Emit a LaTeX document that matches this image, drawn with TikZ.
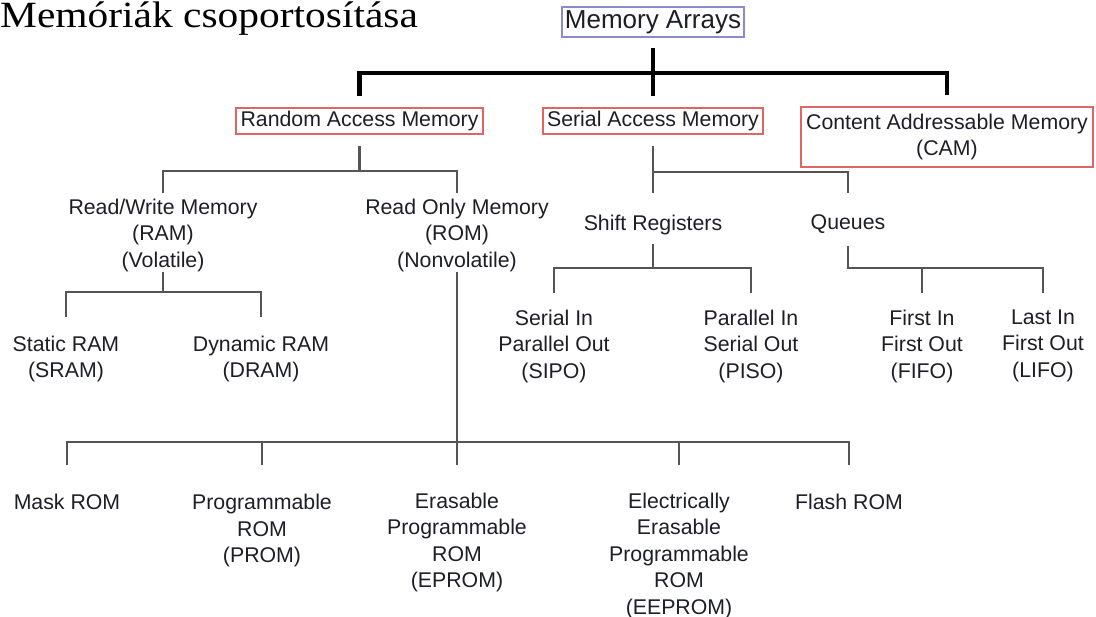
\documentclass[tikz,border=0pt]{standalone}
\usepackage{fontspec}
\setmainfont{Liberation Serif}
\newfontfamily\titlefont[FakeStretch=1.12]{Liberation Serif}
\newfontfamily\arialfont{Liberation Sans}
\usetikzlibrary{calc}

\definecolor{boxred}{HTML}{E06666}
\definecolor{boxblue}{HTML}{8A8AD0}
\definecolor{ink}{HTML}{1E1E28}
\definecolor{wiregray}{HTML}{555555}

\tikzset{
  lbl/.style={font=\arialfont\fontsize{21.3}{26.5}\selectfont, text=ink,
              align=center, inner sep=0pt, anchor=north},
  redbox/.style={font=\arialfont\fontsize{21.3}{26.5}\selectfont, text=ink,
                 align=center, inner sep=0pt, draw=boxred, line width=1.8pt},
  topbox/.style={font=\arialfont\fontsize{26}{30}\selectfont, text=ink,
                 inner sep=0pt, draw=boxblue, line width=1.8pt},
  bus/.style={draw=black, line width=4.8pt, line join=miter},
  wire/.style={draw=wiregray, line width=2.2pt},
}

\begin{document}
\begin{tikzpicture}[x=1pt,y=-1pt]
\useasboundingbox (0,0) rectangle (1096,617);
\fill[white] (0,0) rectangle (1096,617);

% heading
\node[anchor=base west, inner sep=0pt, font=\titlefont\fontsize{37}{42}\selectfont] (title) at (0,27.5) {Memóriák csoportosítása};

% root and first level
\node[topbox, minimum width=182pt, minimum height=30pt] (ma) at (653,22) {Memory Arrays};
\node[redbox, minimum width=247pt, minimum height=26pt] (ram) at (359.5,121) {Random Access Memory};
\node[redbox, minimum width=220pt, minimum height=26pt] (sam) at (653,121) {Serial Access Memory};
\node[redbox, minimum width=292pt, minimum height=60pt] (cam) at (947,137) {Content Addressable Memory\\(CAM)};

% random access branch
\node[lbl] (rw) at (163,198.5) {Read/Write Memory\\(RAM)\\(Volatile)};
\node[lbl] (ro) at (457,198.5) {Read Only Memory\\(ROM)\\(Nonvolatile)};
\node[lbl] (sram) at (66,335.5) {Static RAM\\(SRAM)};
\node[lbl] (dram) at (261,335.5) {Dynamic RAM\\(DRAM)};

% read only memories
\node[lbl] (mask) at (67,494) {Mask ROM};
\node[lbl] (prom) at (262,494) {Programmable\\ROM\\(PROM)};
\node[lbl] (eprom) at (457,492.5) {Erasable\\Programmable\\ROM\\(EPROM)};
\node[lbl] (eeprom) at (679,492.5) {Electrically\\Erasable\\Programmable\\ROM\\(EEPROM)};
\node[lbl] (flash) at (849,494) {Flash ROM};

% serial access branch
\node[lbl] (shift) at (653,214.5) {Shift Registers};
\node[lbl] (queues) at (848,214.5) {Queues};
\node[lbl] (sipo) at (554,309.5) {Serial In\\Parallel Out\\(SIPO)};
\node[lbl] (piso) at (751,309.5) {Parallel In\\Serial Out\\(PISO)};
\node[lbl] (fifo) at (922,309.5) {First In\\First Out\\(FIFO)};
\node[lbl] (lifo) at (1043,309.5) {Last In\\First Out\\(LIFO)};

% junction points of the tree
\coordinate (topbus) at (653,73);
\coordinate (rambus) at (359.5,171);
\coordinate (sambus) at (653,172);
\coordinate (rwbus) at (163,292);
\coordinate (rombus) at (457,442);
\coordinate (srbus) at (653,268);
\coordinate (qbus) at (848,268);

% heavy top level
\draw[bus] ([yshift=-10pt]ma.south) -- ([yshift=11pt]sam.north);
\draw[bus] ([yshift=11pt]ram.north) |- (topbus) -| ([yshift=11pt]cam.north);

% random access memory
\draw[wire] ([yshift=-11pt]ram.south) -- (rambus);
\draw[wire] ([yshift=5.5pt]rw.north) |- (rambus) -| ([yshift=5.5pt]ro.north);
\draw[wire] (rw.south) -- (rwbus);
\draw[wire] ([yshift=18.5pt]sram.north) |- (rwbus) -| ([yshift=18.5pt]dram.north);
\draw[wire] (ro.south) -- (rombus);
\draw[wire] ([yshift=29pt]mask.north) |- (rombus) -| ([yshift=29pt]flash.north);
\draw[wire] ([yshift=29pt]prom.north) -- (prom.north |- rombus);
\draw[wire] ([yshift=27.5pt]eprom.north) -- (rombus);
\draw[wire] ([yshift=27.5pt]eeprom.north) -- (eeprom.north |- rombus);

% serial access memory
\draw[wire] ([yshift=-11pt]sam.south) -- (sambus) -| ([yshift=21.5pt]queues.north);
\draw[wire] (sambus) -- ([yshift=21.5pt]shift.north);
\draw[wire] ([yshift=-9pt]shift.south) -- (srbus);
\draw[wire] ([yshift=16.5pt]sipo.north) |- (srbus) -| ([yshift=16.5pt]piso.north);
\draw[wire] ([yshift=-12pt]queues.south) -- (qbus) -| ([yshift=16.5pt]lifo.north);
\draw[wire] ([yshift=16.5pt]fifo.north) -- (fifo.north |- qbus);
\end{tikzpicture}
\end{document}
